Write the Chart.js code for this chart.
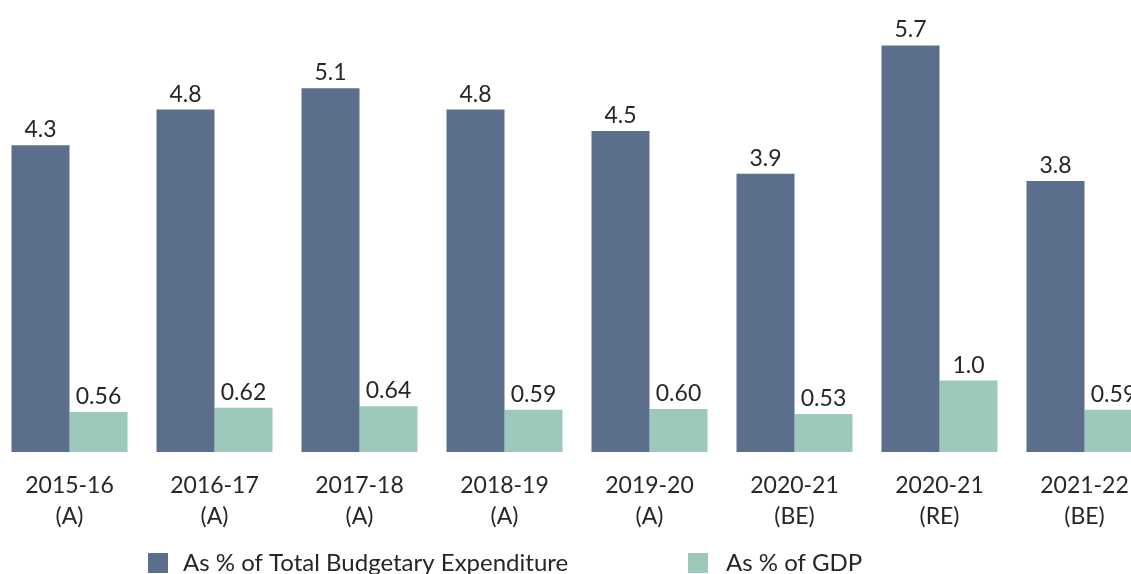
<!DOCTYPE html>
<html>
<head>
<meta charset="utf-8">
<script src="https://cdn.jsdelivr.net/npm/chart.js@4.4.1/dist/chart.umd.min.js"></script>
<style>
  html, body { margin: 0; padding: 0; background: #fff; overflow: hidden; }
  #wrap { position: absolute; left: -3px; top: 0; width: 1160px; height: 600px; }
</style>
</head>
<body>
<div id="wrap"><canvas id="budgetChart" width="1160" height="600"></canvas></div>
<script>
const years = ['2015-16', '2016-17', '2017-18', '2018-19', '2019-20', '2020-21', '2020-21', '2021-22'];
const stages = ['(A)', '(A)', '(A)', '(A)', '(A)', '(BE)', '(RE)', '(BE)'];
const pctExpenditure = [4.3, 4.8, 5.1, 4.8, 4.5, 3.9, 5.7, 3.8];
const pctGdp = [0.56, 0.62, 0.64, 0.59, 0.60, 0.53, 1.0, 0.59];
const seriesNames = ['As % of Total Budgetary Expenditure', 'As % of GDP'];

const FONT = 'Lato, "Open Sans", sans-serif';
const TEXT = '#262626';

// value labels above each bar
const valueLabels = {
  id: 'valueLabels',
  afterDatasetsDraw(chart) {
    const ctx = chart.ctx;
    ctx.save();
    ctx.font = '23px ' + FONT;
    ctx.fillStyle = TEXT;
    ctx.textAlign = 'center';
    ctx.textBaseline = 'alphabetic';
    chart.data.datasets.forEach((ds, i) => {
      chart.getDatasetMeta(i).data.forEach((bar, j) => {
        const v = ds.data[j];
        const txt = v >= 1 ? v.toFixed(1) : v.toFixed(2);
        ctx.fillText(txt, bar.x, bar.y - 8);
      });
    });
    ctx.restore();
  }
};

// legend drawn by hand so the two items sit where the original has them
const bottomLegend = {
  id: 'bottomLegend',
  afterDraw(chart) {
    const ctx = chart.ctx;
    const items = [{x: 151, tx: 186}, {x: 691, tx: 729}];
    ctx.save();
    ctx.font = '24px ' + FONT;
    ctx.textBaseline = 'alphabetic';
    chart.data.datasets.forEach((ds, i) => {
      ctx.fillStyle = ds.backgroundColor;
      ctx.fillRect(items[i].x, 553, 20, 20);
      ctx.fillStyle = TEXT;
      ctx.fillText(ds.label, items[i].tx, 571);
    });
    ctx.restore();
  }
};

new Chart(document.getElementById('budgetChart'), {
  type: 'bar',
  data: {
    labels: years.map((y, i) => [y, stages[i]]),
    datasets: [
      { label: seriesNames[0], data: pctExpenditure, backgroundColor: '#5b6f8d' },
      { label: seriesNames[1], data: pctGdp, backgroundColor: '#9dc8bc' }
    ]
  },
  options: {
    responsive: false,
    animation: false,
    devicePixelRatio: 1,
    layout: { padding: { top: 24, bottom: 50, left: 0, right: 0 } },
    datasets: { bar: { categoryPercentage: 0.8, barPercentage: 1.0 } },
    plugins: { legend: { display: false }, tooltip: { enabled: false } },
    scales: {
      x: {
        grid: { display: false, drawTicks: false },
        border: { display: false },
        ticks: { color: TEXT, font: { family: FONT, size: 23, lineHeight: 1.35 }, padding: 18, maxRotation: 0, autoSkip: false }
      },
      y: { display: false, min: 0, max: 6 }
    }
  },
  plugins: [valueLabels, bottomLegend]
});
</script>
</body>
</html>
